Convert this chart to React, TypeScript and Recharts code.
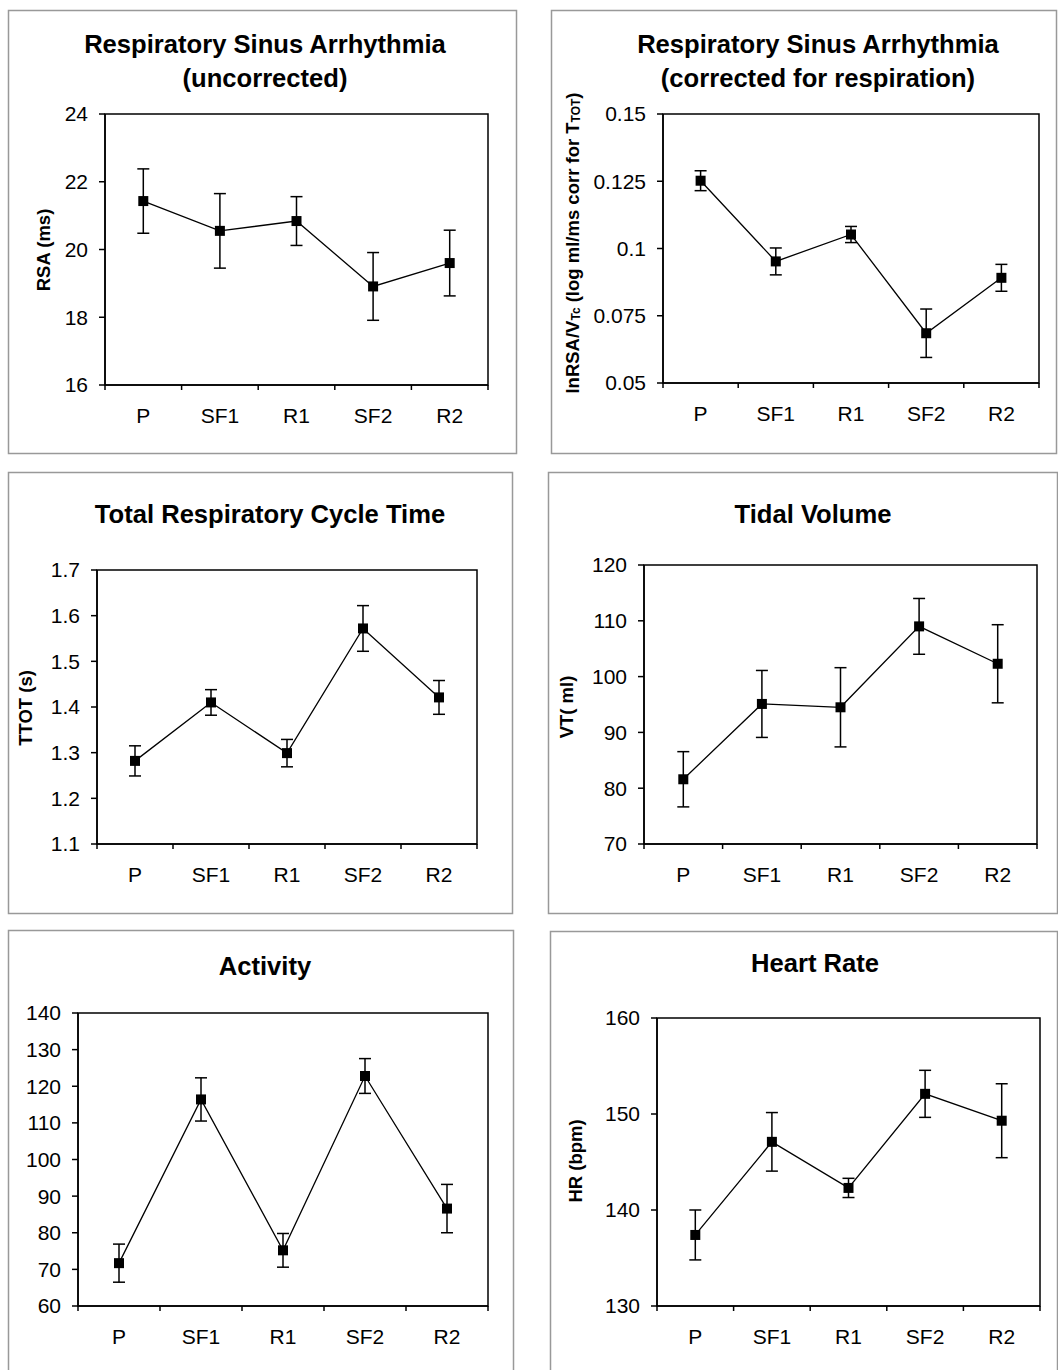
import React from "react";
import { LineChart, Line, XAxis, YAxis, ErrorBar, ReferenceArea } from "recharts";

const FONT = '"Liberation Sans", Arial, Helvetica, sans-serif';

// ---- data ----
const categories = ["P", "SF1", "R1", "SF2", "R2"];

const rsaMean = [21.43, 20.55, 20.84, 18.91, 19.6];
const rsaErr = [0.95, 1.1, 0.72, 1.0, 0.97];
const rsaTicks = [16, 18, 20, 22, 24];

const rsaCorrMean = [0.1252, 0.0952, 0.1052, 0.0685, 0.0891];
const rsaCorrErr = [0.0037, 0.005, 0.003, 0.009, 0.005];
const rsaCorrTicks = [0.05, 0.075, 0.1, 0.125, 0.15];

const ttotMean = [1.282, 1.41, 1.299, 1.572, 1.421];
const ttotErr = [0.033, 0.028, 0.03, 0.05, 0.037];
const ttotTicks = [1.1, 1.2, 1.3, 1.4, 1.5, 1.6, 1.7];

const vtMean = [81.6, 95.1, 94.5, 109.0, 102.3];
const vtErr = [4.95, 6.0, 7.1, 5.0, 7.0];
const vtTicks = [70, 80, 90, 100, 110, 120];

const activityMean = [71.7, 116.4, 75.2, 122.8, 86.6];
const activityErr = [5.2, 5.9, 4.6, 4.75, 6.6];
const activityTicks = [60, 70, 80, 90, 100, 110, 120, 130, 140];

const hrMean = [137.4, 147.1, 142.3, 152.1, 149.3];
const hrErr = [2.6, 3.05, 1.0, 2.45, 3.85];
const hrTicks = [130, 140, 150, 160];

const xTicks = [0, 0.5, 1, 1.5, 2, 2.5, 3, 3.5, 4, 4.5, 5];

// ---- helpers ----
const buildRows = (mean: number[], err: number[]) =>
  categories.map((c, i) => ({ x: i + 0.5, cat: c, v: mean[i], e: err[i] }));

const XTick = (props: any) => {
  const { x, y, payload } = props;
  const v = payload.value;
  if (Number.isInteger(v)) {
    return <line x1={x} y1={y} x2={x} y2={y + 5} stroke="#000" strokeWidth={1.5} />;
  }
  return (
    <text x={x} y={y + 38} textAnchor="middle" fontSize={21} fontFamily={FONT} fill="#000">
      {categories[Math.floor(v)]}
    </text>
  );
};

const SquareDot = (props: any) => {
  const { cx, cy, index } = props;
  return <rect key={index} x={cx - 5} y={cy - 5} width={10} height={10} fill="#000" />;
};

type PanelCfg = {
  box: { x: number; y: number; w: number; h: number };
  plot: { l: number; t: number; r: number; b: number };
  domain: [number, number];
  ticks: number[];
  fmt?: (v: number) => string;
  mean: number[];
  err: number[];
  title: string[];
  titleX: number;
  titleY: number[];
  yLabel?: React.ReactNode;
  yLabelPos?: [number, number];
};

const yLabelStyle = { fontSize: 18.5, fontWeight: 700, fontFamily: FONT, fill: "#000" };

const panels: PanelCfg[] = [
  {
    box: { x: 8, y: 10, w: 508, h: 443 },
    plot: { l: 105, t: 114, r: 488, b: 385 },
    domain: [16, 24],
    ticks: rsaTicks,
    mean: rsaMean,
    err: rsaErr,
    title: ["Respiratory Sinus Arrhythmia", "(uncorrected)"],
    titleX: 265,
    titleY: [53, 87],
    yLabel: "RSA (ms)",
    yLabelPos: [43, 250],
  },
  {
    box: { x: 551, y: 10, w: 505, h: 443 },
    plot: { l: 663, t: 114, r: 1039, b: 383 },
    domain: [0.05, 0.15],
    ticks: rsaCorrTicks,
    mean: rsaCorrMean,
    err: rsaCorrErr,
    title: ["Respiratory Sinus Arrhythmia", "(corrected for respiration)"],
    titleX: 818,
    titleY: [53, 87],
    yLabel: (
      <>
        lnRSA/V
        <tspan fontSize={12} dy={4}>Tc</tspan>
        <tspan dy={-4}> (log ml/ms corr for T</tspan>
        <tspan fontSize={12} dy={4}>TOT</tspan>
        <tspan dy={-4}>)</tspan>
      </>
    ),
    yLabelPos: [572, 243],
  },
  {
    box: { x: 8, y: 472, w: 504, h: 441 },
    plot: { l: 97, t: 570, r: 477, b: 844 },
    domain: [1.1, 1.7],
    ticks: ttotTicks,
    fmt: (v: number) => v.toFixed(1),
    mean: ttotMean,
    err: ttotErr,
    title: ["Total Respiratory Cycle Time"],
    titleX: 270,
    titleY: [523],
    yLabel: "TTOT (s)",
    yLabelPos: [25, 708],
  },
  {
    box: { x: 548, y: 472, w: 509, h: 441 },
    plot: { l: 644, t: 565, r: 1037, b: 844 },
    domain: [70, 120],
    ticks: vtTicks,
    mean: vtMean,
    err: vtErr,
    title: ["Tidal Volume"],
    titleX: 813,
    titleY: [523],
    yLabel: "VT( ml)",
    yLabelPos: [566, 707],
  },
  {
    box: { x: 8, y: 930, w: 505, h: 450 },
    plot: { l: 78, t: 1013, r: 488, b: 1306 },
    domain: [60, 140],
    ticks: activityTicks,
    mean: activityMean,
    err: activityErr,
    title: ["Activity"],
    titleX: 265,
    titleY: [975],
  },
  {
    box: { x: 550, y: 931, w: 507, h: 450 },
    plot: { l: 657, t: 1018, r: 1040, b: 1306 },
    domain: [130, 160],
    ticks: hrTicks,
    mean: hrMean,
    err: hrErr,
    title: ["Heart Rate"],
    titleX: 815,
    titleY: [972],
    yLabel: "HR (bpm)",
    yLabelPos: [575, 1161],
  },
];

const XAXIS_H = 50;

const Panel = ({ cfg }: { cfg: PanelCfg }) => {
  const { box, plot } = cfg;
  const data = buildRows(cfg.mean, cfg.err);
  const yAxisW = plot.l - box.x;
  const margin = {
    top: plot.t - box.y,
    right: box.x + box.w - plot.r,
    bottom: box.y + box.h - plot.b - XAXIS_H,
    left: 0,
  };
  const labelContent = () => {
    if (!cfg.yLabel || !cfg.yLabelPos) return null;
    const lx = cfg.yLabelPos[0] - box.x;
    const ly = cfg.yLabelPos[1] - box.y;
    return (
      <text
        x={lx}
        y={ly}
        textAnchor="middle"
        dominantBaseline="central"
        transform={`rotate(-90, ${lx}, ${ly})`}
        {...yLabelStyle}
      >
        {cfg.yLabel}
      </text>
    );
  };
  return (
    <div style={{ position: "absolute", left: box.x, top: box.y, width: box.w, height: box.h }}>
      <LineChart width={box.w} height={box.h} data={data} margin={margin}>
        <XAxis
          type="number"
          dataKey="x"
          domain={[0, 5]}
          ticks={xTicks}
          interval={0}
          tickLine={false}
          tickSize={0}
          tickMargin={0}
          height={XAXIS_H}
          axisLine={{ stroke: "#000", strokeWidth: 1.5 }}
          tick={<XTick />}
        />
        <YAxis
          type="number"
          domain={cfg.domain}
          ticks={cfg.ticks}
          interval={0}
          width={yAxisW}
          tickSize={6}
          tickMargin={11}
          tickFormatter={cfg.fmt}
          axisLine={{ stroke: "#000", strokeWidth: 1.5 }}
          tickLine={{ stroke: "#000", strokeWidth: 1.5 }}
          tick={{ fill: "#000", fontSize: 21, fontFamily: FONT }}
          label={cfg.yLabel ? { content: labelContent } : undefined}
        />
        <ReferenceArea
          x1={0}
          x2={5}
          y1={cfg.domain[0]}
          y2={cfg.domain[1]}
          fill="none"
          fillOpacity={0}
          stroke="#000"
          strokeWidth={1.5}
          strokeOpacity={1}
        />
        <Line
          type="linear"
          dataKey="v"
          stroke="#000"
          strokeWidth={1.3}
          dot={SquareDot}
          activeDot={false}
          isAnimationActive={false}
        >
          <ErrorBar dataKey="e" width={6} stroke="#000" strokeWidth={1.5} direction="y" isAnimationActive={false} />
        </Line>
      </LineChart>
    </div>
  );
};

export default function App() {
  return (
    <div style={{ position: "absolute", left: 0, top: 0, width: 1058, height: 1370, background: "#fff", overflow: "hidden" }}>
      <svg width={1058} height={1370} style={{ position: "absolute", left: 0, top: 0 }}>
        {panels.map((p, i) => (
          <g key={i}>
            <rect x={p.box.x + 0.5} y={p.box.y + 0.5} width={p.box.w} height={p.box.h} fill="#fff" stroke="#999" strokeWidth={1.5} />
            {p.title.map((t, j) => (
              <text
                key={j}
                x={p.titleX}
                y={p.titleY[j]}
                textAnchor="middle"
                fontSize={25.6}
                fontWeight={700}
                fontFamily={FONT}
                fill="#000"
              >
                {t}
              </text>
            ))}
          </g>
        ))}
      </svg>
      {panels.map((p, i) => (
        <Panel key={i} cfg={p} />
      ))}
    </div>
  );
}
